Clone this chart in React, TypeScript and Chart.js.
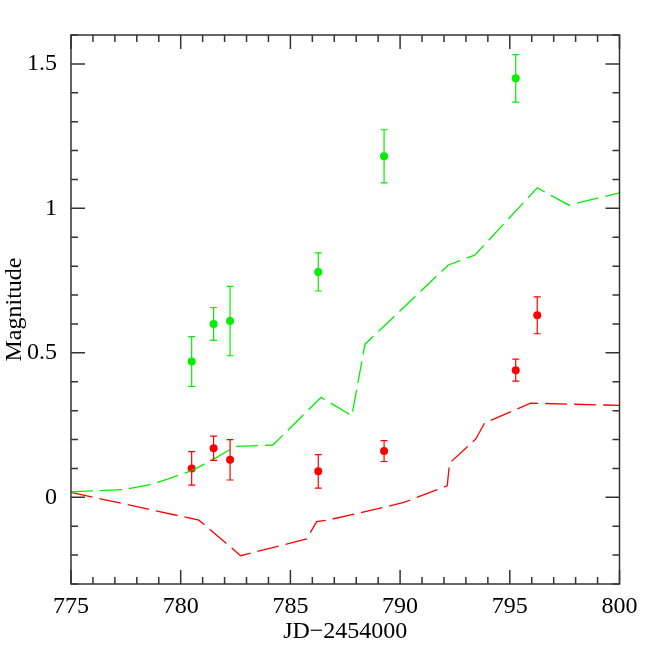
import React, { useEffect, useRef } from "react";
import { Chart, registerables } from "chart.js";

Chart.register(...registerables);

// Observation epochs (JD - 2454000)
const OBS_JD_GREEN = [780.5, 781.5, 782.25, 786.27, 789.27, 795.27];
const OBS_MAG_GREEN = [0.47, 0.6, 0.61, 0.78, 1.18, 1.45];
const OBS_ERR_GREEN = [0.086, 0.057, 0.12, 0.066, 0.092, 0.082];

const OBS_JD_RED = [780.5, 781.5, 782.25, 786.27, 789.27, 795.27, 796.25];
const OBS_MAG_RED = [0.1, 0.17, 0.13, 0.09, 0.16, 0.44, 0.63];
const OBS_ERR_RED = [0.058, 0.042, 0.07, 0.058, 0.036, 0.038, 0.064];

// Model curves
const MODEL_JD_GREEN = [775, 777.4, 778.5, 779.4, 780.5, 781.5, 782.5, 784.2, 786.4, 787.8, 788.4, 792.2, 793.4, 796.25, 797.7, 800];
const MODEL_MAG_GREEN = [0.019, 0.027, 0.042, 0.063, 0.092, 0.132, 0.176, 0.181, 0.346, 0.282, 0.53, 0.804, 0.838, 1.071, 1.011, 1.054];

const MODEL_JD_RED = [775, 780.83, 782.73, 785.74, 786.2, 786.7, 789.4, 790.2, 792.15, 792.25, 793.45, 793.85, 795.95, 800];
const MODEL_MAG_RED = [0.017, -0.079, -0.202, -0.144, -0.084, -0.079, -0.032, -0.017, 0.04, 0.118, 0.202, 0.257, 0.326, 0.318];

const X_TICKS = [775, 780, 785, 790, 795, 800];
const Y_TICKS = [0, 0.5, 1, 1.5];
const X_MIN = 775;
const X_MAX = 800;
const Y_MIN = -0.3;
const Y_MAX = 1.6;
const X_MINOR_STEP = 1;
const Y_MINOR_STEP = 0.1;

const GREEN = "rgb(0,240,0)";
const RED = "rgb(255,0,0)";
const FONT = "'Liberation Serif', 'Times New Roman', serif";

const zip = (xs: number[], ys: number[]) => xs.map((x, i) => ({ x, y: ys[i] }));

const errorBarPlugin = {
  id: "errorBars",
  afterDatasetsDraw(chart: any) {
    const { ctx, scales } = chart;
    const xs = scales.x;
    const ys = scales.y;
    chart.data.datasets.forEach((ds: any) => {
      if (!ds.errors) return;
      ctx.save();
      ctx.strokeStyle = ds.backgroundColor;
      ctx.lineWidth = 1.2;
      ds.data.forEach((p: any, i: number) => {
        const e = ds.errors[i];
        const px = xs.getPixelForValue(p.x);
        const y1 = ys.getPixelForValue(p.y + e);
        const y2 = ys.getPixelForValue(p.y - e);
        ctx.beginPath();
        ctx.moveTo(px, y1);
        ctx.lineTo(px, y2);
        ctx.moveTo(px - 3.5, y1);
        ctx.lineTo(px + 3.5, y1);
        ctx.moveTo(px - 3.5, y2);
        ctx.lineTo(px + 3.5, y2);
        ctx.stroke();
      });
      ctx.restore();
    });
  },
};

const frameTicksPlugin = {
  id: "frameTicks",
  afterDraw(chart: any) {
    const { ctx, chartArea: a, scales } = chart;
    const xs = scales.x;
    const ys = scales.y;
    ctx.save();
    ctx.strokeStyle = "#333";
    ctx.lineWidth = 1.5;
    ctx.strokeRect(a.left, a.top, a.right - a.left, a.bottom - a.top);
    ctx.beginPath();
    const nX = Math.round((X_MAX - X_MIN) / X_MINOR_STEP);
    for (let i = 0; i <= nX; i++) {
      const v = X_MIN + i * X_MINOR_STEP;
      const major = X_TICKS.some((t) => Math.abs(t - v) < 1e-6);
      const len = major ? 14 : 7;
      const px = xs.getPixelForValue(v);
      ctx.moveTo(px, a.bottom);
      ctx.lineTo(px, a.bottom - len);
      ctx.moveTo(px, a.top);
      ctx.lineTo(px, a.top + len);
    }
    const startY = Math.ceil(Y_MIN / Y_MINOR_STEP - 1e-6);
    const endY = Math.floor(Y_MAX / Y_MINOR_STEP + 1e-6);
    for (let k = startY; k <= endY; k++) {
      const v = k * Y_MINOR_STEP;
      const major = Y_TICKS.some((t) => Math.abs(t - v) < 1e-6);
      const len = major ? 14 : 7;
      const py = ys.getPixelForValue(v);
      ctx.moveTo(a.left, py);
      ctx.lineTo(a.left + len, py);
      ctx.moveTo(a.right, py);
      ctx.lineTo(a.right - len, py);
    }
    ctx.stroke();
    ctx.restore();
  },
};

export default function App() {
  const ref = useRef<HTMLCanvasElement | null>(null);

  useEffect(() => {
    if (!ref.current) return;
    const chart = new Chart(ref.current, {
      type: "scatter",
      data: {
        datasets: [
          {
            type: "line",
            label: "model green",
            data: zip(MODEL_JD_GREEN, MODEL_MAG_GREEN),
            borderColor: GREEN,
            borderWidth: 1.3,
            borderDash: [22, 7],
            pointRadius: 0,
            fill: false,
            tension: 0,
          } as any,
          {
            type: "line",
            label: "model red",
            data: zip(MODEL_JD_RED, MODEL_MAG_RED),
            borderColor: RED,
            borderWidth: 1.3,
            borderDash: [22, 7],
            pointRadius: 0,
            fill: false,
            tension: 0,
          } as any,
          {
            label: "obs green",
            data: zip(OBS_JD_GREEN, OBS_MAG_GREEN),
            backgroundColor: GREEN,
            borderWidth: 0,
            pointRadius: 4,
            errors: OBS_ERR_GREEN,
          } as any,
          {
            label: "obs red",
            data: zip(OBS_JD_RED, OBS_MAG_RED),
            backgroundColor: RED,
            borderWidth: 0,
            pointRadius: 4,
            errors: OBS_ERR_RED,
          } as any,
        ],
      },
      options: {
        animation: false,
        responsive: false,
        maintainAspectRatio: false,
        layout: { padding: { top: 35, right: 34.5, left: 0, bottom: 0 } },
        plugins: { legend: { display: false }, tooltip: { enabled: false } },
        scales: {
          x: {
            type: "linear",
            min: X_MIN,
            max: X_MAX,
            afterBuildTicks: (s: any) => {
              s.ticks = X_TICKS.map((v) => ({ value: v }));
            },
            afterFit: (s: any) => {
              s.height = 70;
            },
            ticks: {
              font: { family: FONT, size: 24 },
              color: "#000",
              padding: 8,
              maxRotation: 0,
              autoSkip: false,
              callback: (v: any) => String(v),
            },
            grid: { display: false, drawTicks: false },
            border: { display: false },
            title: {
              display: true,
              text: "JD\u22122454000",
              font: { family: FONT, size: 24 },
              color: "#000",
              padding: { top: 0, bottom: 8 },
            },
          },
          y: {
            type: "linear",
            min: Y_MIN,
            max: Y_MAX,
            afterBuildTicks: (s: any) => {
              s.ticks = Y_TICKS.map((v) => ({ value: v }));
            },
            afterFit: (s: any) => {
              s.width = 71;
            },
            ticks: {
              font: { family: FONT, size: 24 },
              color: "#000",
              padding: 14,
              autoSkip: false,
              callback: (v: any) => String(v),
            },
            grid: { display: false, drawTicks: false },
            border: { display: false },
            title: {
              display: true,
              text: "Magnitude",
              font: { family: FONT, size: 24 },
              color: "#000",
              padding: { top: 0, bottom: 0 },
            },
          },
        },
      } as any,
      plugins: [errorBarPlugin, frameTicksPlugin],
    });
    return () => chart.destroy();
  }, []);

  return (
    <div style={{ position: "absolute", left: 0, top: 0, width: 654, height: 654, background: "#fff" }}>
      <canvas ref={ref} width={654} height={654} />
    </div>
  );
}
